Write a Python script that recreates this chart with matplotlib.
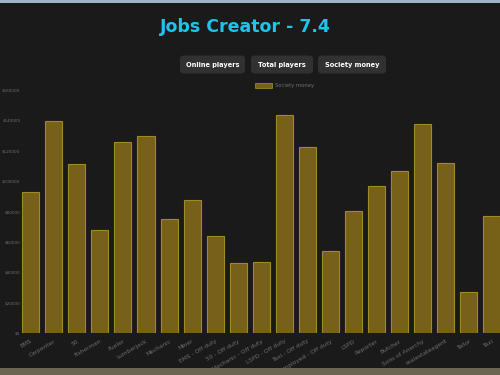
import matplotlib
matplotlib.use("Agg")
import matplotlib.pyplot as plt
from matplotlib.patches import FancyBboxPatch, Rectangle

# Society money per job
jobs = ["EMS", "Carpenter", "50", "Fisherman", "Fueler", "Lumberjack", "Mechanic",
        "Miner", "EMS - Off duty", "50 - Off duty", "Mechanic - Off duty",
        "LSPD - Off duty", "Taxi - Off duty", "Unemployed - Off duty", "LSPD",
        "Reporter", "Butcher", "Sons of Anarchy", "realestateagent", "Tailor", "Taxi"]
money = [93000, 139600, 111300, 67800, 125700, 129700, 75000,
         87600, 63900, 46100, 46700,
         143500, 122500, 54000, 80300,
         96800, 106700, 137600, 111900, 27000, 77000]
yticks = [0, 20000, 40000, 60000, 80000, 100000, 120000, 140000, 160000]

bg = "#1a1a1a"
fig = plt.figure(figsize=(5, 3.75), dpi=100, facecolor=bg)

# window border strip on top, textured desktop strip at bottom
fig.patches.append(Rectangle((0, 0.992), 1, 0.008, transform=fig.transFigure,
                             facecolor="#9fb4c8", edgecolor="none"))
fig.patches.append(Rectangle((0, 0), 1, 0.02, transform=fig.transFigure,
                             facecolor="#6b6552", edgecolor="none"))

fig.text(0.49, 0.927, "Jobs Creator - 7.4", color="#1ec4ec", fontsize=12.5,
         fontweight="bold", ha="center", va="center", family="DejaVu Sans")

# buttons
buttons = [("Online players", 0.36, 0.13), ("Total players", 0.502, 0.124),
           ("Society money", 0.636, 0.136)]
for label, x0, w in buttons:
    fig.patches.append(FancyBboxPatch((x0, 0.804), w, 0.048,
                                      boxstyle="round,pad=0,rounding_size=0.009",
                                      transform=fig.transFigure,
                                      facecolor="#313131", edgecolor="none"))
    fig.text(x0 + w / 2, 0.828, label, color="white", fontsize=4.8,
             fontweight="bold", ha="center", va="center")

# legend
fig.patches.append(Rectangle((0.509, 0.765), 0.034, 0.013, transform=fig.transFigure,
                             facecolor="#76601a", edgecolor="#9c8524", linewidth=0.6))
fig.text(0.55, 0.771, "Society money", color="#6e6e6e", fontsize=3.8,
         ha="left", va="center")

ax = fig.add_axes([0.042, 0.112, 0.958, 0.648], facecolor=bg)
x = list(range(len(jobs)))
ax.bar(x, money, width=0.74, color="#76601a", edgecolor="#a08a24", linewidth=0.8)

ax.set_xlim(-0.42, 20.35)
ax.set_ylim(0, 160000)
ax.set_yticks(yticks)
ax.set_yticklabels(["$" + str(v) for v in yticks])
ax.set_xticks(x)
ax.set_xticklabels(jobs, rotation=30, ha="right", rotation_mode="anchor")
ax.tick_params(axis="y", length=0, pad=0.5, labelsize=3.0, labelcolor="#6e6e6e")
ax.tick_params(axis="x", length=0, pad=4, labelsize=4.2, labelcolor="#6e6e6e")
for s in ax.spines.values():
    s.set_visible(False)

fig.savefig("out.png", dpi=100, facecolor=bg)
